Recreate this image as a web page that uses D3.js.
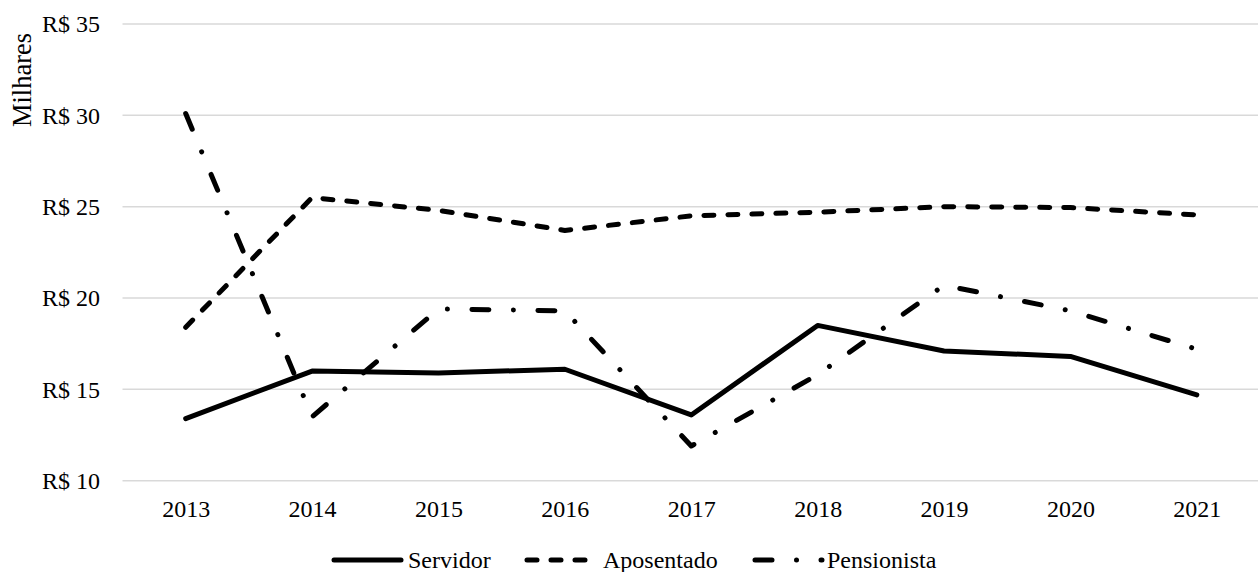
<!DOCTYPE html>
<html>
<head>
<meta charset="utf-8">
<script src="https://cdn.jsdelivr.net/npm/d3@7"></script>
<style>
  html, body { margin: 0; padding: 0; background: #fff; }
  svg { display: block; }
  text { font-family: "Liberation Serif", "Times New Roman", serif; fill: #000; }
</style>
</head>
<body>
<svg id="chart" width="1258" height="572"></svg>
<script>
const categories = ["2013","2014","2015","2016","2017","2018","2019","2020","2021"];
const servidor    = [13.4, 16.0, 15.9, 16.1, 13.6, 18.5, 17.1, 16.8, 14.7];
const aposentado  = [18.4, 25.5, 24.8, 23.7, 24.5, 24.7, 25.0, 24.95, 24.55];
const pensionista = [30.1, 13.5, 19.4, 19.3, 11.9, 15.8, 20.7, 19.3, 17.2];
const yTicks = [10, 15, 20, 25, 30, 35];
const yTickLabels = ["R$ 10","R$ 15","R$ 20","R$ 25","R$ 30","R$ 35"];
const seriesNames = ["Servidor","Aposentado","Pensionista"];

const series = [
  { name: seriesNames[0], values: servidor,    dash: null },
  { name: seriesNames[1], values: aposentado,  dash: "10,14" },
  { name: seriesNames[2], values: pensionista, dash: "17,24.5,0.01,24.5" }
];

const svg = d3.select("#chart");
const plotLeft = 122.5, plotRight = 1260, plotTop = 24, plotBottom = 480.7;

const x = d3.scalePoint().domain(categories).range([plotLeft, plotRight]).padding(0.5);
const y = d3.scaleLinear().domain([10, 35]).range([plotBottom, plotTop]);

// gridlines
svg.append("g").selectAll("line").data(yTicks).join("line")
  .attr("x1", plotLeft).attr("x2", plotRight)
  .attr("y1", d => y(d)).attr("y2", d => y(d))
  .attr("stroke", "#d9d9d9").attr("stroke-width", 1.5);

// y axis labels
const yAxis = d3.axisLeft(y).tickValues(yTicks).tickSize(0).tickPadding(0)
  .tickFormat((d, i) => yTickLabels[i]);
const gy = svg.append("g").attr("transform", "translate(100,0)").call(yAxis);
gy.attr("font-family", null);
gy.select(".domain").remove();
gy.selectAll("text").style("font-family", '"Liberation Serif", serif').style("font-size", "24px").attr("fill", "#000").attr("dy", "0.33em");

// x axis labels
const xAxis = d3.axisBottom(x).tickSize(0).tickPadding(0);
const gx = svg.append("g").attr("transform", `translate(0,${plotBottom})`).call(xAxis);
gx.attr("font-family", null);
gx.select(".domain").remove();
gx.selectAll("text").style("font-family", '"Liberation Serif", serif').style("font-size", "24px").attr("fill", "#000")
  .attr("dy", null).attr("y", 36);

// axis title
svg.append("text")
  .attr("transform", "translate(31,80) rotate(-90)")
  .attr("text-anchor", "middle")
  .style("font-size", "26.5px")
  .text("Milhares");

// lines
const line = d3.line().x((d, i) => x(categories[i])).y(d => y(d));
svg.append("g").selectAll("path").data(series).join("path")
  .attr("d", d => line(d.values))
  .attr("fill", "none")
  .attr("stroke", "#000")
  .attr("stroke-width", 5)
  .attr("stroke-linecap", "round")
  .attr("stroke-linejoin", "round")
  .attr("stroke-dasharray", d => d.dash);

// legend
const legendItems = [
  { s: series[0], x1: 334, textX: 408 },
  { s: series[1], x1: 527, textX: 603 },
  { s: series[2], x1: 755, textX: 827 }
];
const lg = svg.append("g");
legendItems.forEach(it => {
  lg.append("line")
    .attr("x1", it.x1).attr("x2", it.x1 + 67)
    .attr("y1", 560).attr("y2", 560)
    .attr("stroke", "#000").attr("stroke-width", 5)
    .attr("stroke-linecap", "round")
    .attr("stroke-dasharray", it.s.dash);
  lg.append("text").attr("x", it.textX).attr("y", 568)
    .style("font-size", "24px").text(it.s.name);
});
</script>
</body>
</html>
